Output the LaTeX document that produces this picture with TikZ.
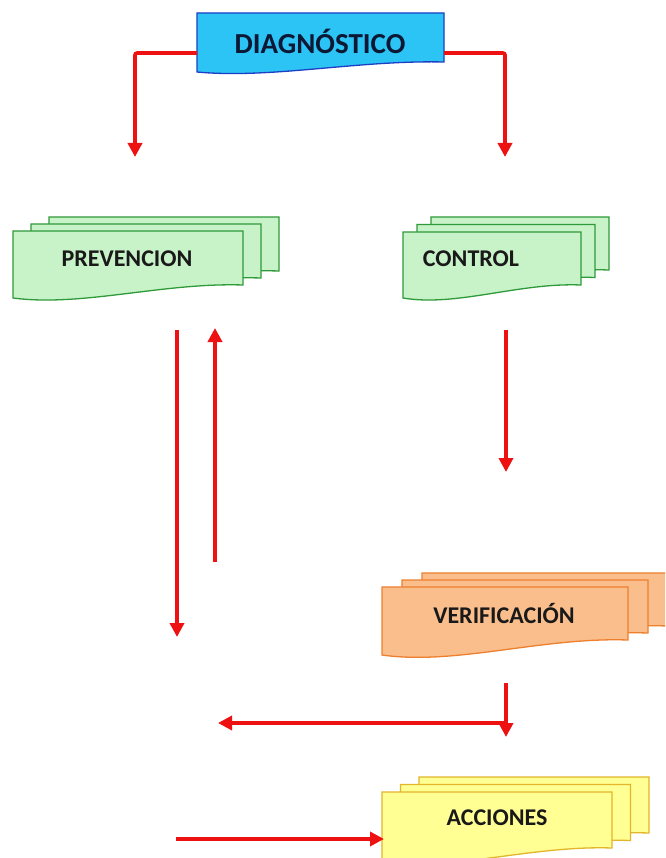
\documentclass[tikz,border=0pt]{standalone}
\usepackage{fontspec}
\setmainfont{Carlito}
\usetikzlibrary{arrows.meta}

\definecolor{arrowred}{HTML}{EE1111}
\definecolor{diagfill}{HTML}{2CC3F5}
\definecolor{diagline}{HTML}{1C3FC4}
\definecolor{grnfill}{HTML}{C8F2C8}
\definecolor{grnline}{HTML}{2F9A3A}
\definecolor{orgfill}{HTML}{F9BE8C}
\definecolor{orgline}{HTML}{EE7F2D}
\definecolor{ylwfill}{HTML}{FFFF94}
\definecolor{ylwline}{HTML}{E2B52A}

% document outline: x1, top, x2, left bottom, rise of the right bottom
\newcommand{\docpath}[5]{(#1,#2) -- (#3,#2) -- (#3,{#4-#5})
  .. controls ({#1+0.65*(#3-#1)},{#4-1.2*#5}) and ({#1+0.3*(#3-#1)},{#4+0.7*#5}) .. (#1,#4) -- cycle}
% three stacked documents: style, x1, top, x2, left bottom, rise, dx, dy
\newcommand{\multidoc}[8]{
  \draw[#1,shift={({2*#7},{2*#8})}] \docpath{#2}{#3}{#4}{#5}{#6};
  \draw[#1,shift={(#7,#8)}] \docpath{#2}{#3}{#4}{#5}{#6};
  \draw[#1] \docpath{#2}{#3}{#4}{#5}{#6};
}

\begin{document}
\begin{tikzpicture}[x=1pt,y=-1pt,
  lbl/.style={font=\bfseries\fontsize{24}{24}\selectfont, text=black!90},
  arr/.style={draw=arrowred, line width=3.6pt, -{Triangle[length=14pt,width=14pt]}},
  diagdoc/.style={fill=diagfill, draw=diagline, line width=1.3pt},
  grndoc/.style={fill=grnfill, draw=grnline, line width=1.3pt},
  orgdoc/.style={fill=orgfill, draw=orgline, line width=1.3pt},
  ylwdoc/.style={fill=ylwfill, draw=ylwline, line width=1.3pt}]
  \clip (0,0) rectangle (665,858);

  % documents
  \draw[diagdoc] \docpath{197}{13}{444}{72}{10};
  \multidoc{grndoc}{13}{231}{243}{298}{13}{18}{-7}
  \multidoc{grndoc}{403}{232}{581}{298}{13}{14}{-7.5}
  \multidoc{orgdoc}{382}{587}{628}{655}{15}{20}{-7}
  \multidoc{ylwdoc}{382}{792}{612}{862}{14}{18.5}{-7.5}

  % labels
  \node[lbl, font=\bfseries\fontsize{29}{29}\selectfont, text={rgb,255:red,12;green,24;blue,52}] (diag) at (320,41) {DIAGNÓSTICO};
  \node[lbl] (prev) at (127,259) {PREVENCION};
  \node[lbl] (ctrl) at (471,259) {CONTROL};
  \node[lbl] (verif) at (504,613) {VERIFICACIÓN};
  \node[lbl] (acc) at (497,818) {ACCIONES};

  % connector ends
  \coordinate (diagL) at (197,53);
  \coordinate (diagR) at (444,53);
  \coordinate (prevIn) at (135,157);
  \coordinate (ctrlIn) at (505,157);
  \coordinate (prevA) at (177,330);
  \coordinate (prevB) at (177,637);
  \coordinate (prevC) at (215,562);
  \coordinate (prevD) at (215,328);
  \coordinate (ctrlA) at (506,330);
  \coordinate (ctrlB) at (506,472);
  \coordinate (verifA) at (506,683);
  \coordinate (verifB) at (506,737);
  \coordinate (backA) at (506,723);
  \coordinate (backB) at (218,723);
  \coordinate (accIn) at (176,839);
  \coordinate (accL) at (384,839);

  % arrows
  \draw[arr, rounded corners=2pt] (diagL) -| (prevIn);
  \draw[arr, rounded corners=2pt] (diagR) -| (ctrlIn);
  \draw[arr] (prevA) -- (prevB);
  \draw[arr] (prevC) -- (prevD);
  \draw[arr] (ctrlA) -- (ctrlB);
  \draw[arr] (verifA) -- (verifB);
  \draw[arr] (backA) -- (backB);
  \draw[arr] (accIn) -- (accL);
\end{tikzpicture}
\end{document}
